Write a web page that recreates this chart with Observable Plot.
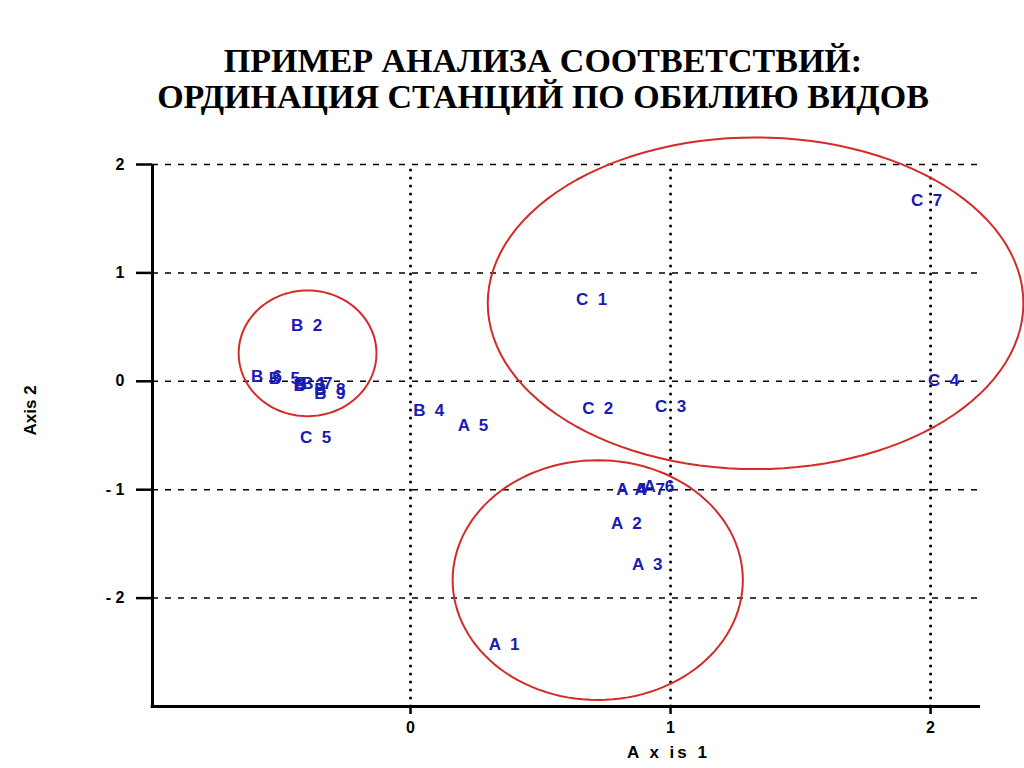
<!DOCTYPE html>
<html>
<head>
<meta charset="utf-8">
<script src="https://cdn.jsdelivr.net/npm/d3@7"></script>
<script src="https://cdn.jsdelivr.net/npm/@observablehq/plot@0.6"></script>
<style>
  body { margin: 0; background: #fff; }
  #title {
    height: 120px; box-sizing: border-box; padding-top: 43px; padding-left: 62px;
    font-family: "Liberation Serif", "Times New Roman", "DejaVu Serif", serif; font-weight: bold;
    font-size: 34px; line-height: 36px; text-align: center; color: #000;
  }
  #chart svg { font-family: "Liberation Sans", Arial, sans-serif; }
</style>
</head>
<body>
<div id="title">ПРИМЕР АНАЛИЗА СООТВЕТСТВИЙ:<br>ОРДИНАЦИЯ СТАНЦИЙ ПО ОБИЛИЮ ВИДОВ</div>
<div id="chart"></div>
<script>
// Station labels and their ordination scores (Axis 1, Axis 2)
const stations = ["C  7","C  1","C  4","C  2","C  3","C  5","B  2","B  4","A  5","A  1","A  2","A  3","A  4","A  7","A  6","B  6","B  5","B  1","B  3","B  7","B  8","B  9"];
const axis1 = [1.985, 0.696, 2.05, 0.72, 1.0, -0.365, -0.40, 0.07, 0.24, 0.36, 0.83, 0.91, 0.85, 0.92, 0.955, -0.554, -0.485, -0.385, -0.39, -0.36, -0.31, -0.31];
const axis2 = [1.67, 0.75, 0.01, -0.25, -0.23, -0.52, 0.51, -0.27, -0.41, -2.43, -1.31, -1.69, -1.0, -1.0, -0.97, 0.04, 0.03, -0.02, -0.04, -0.02, -0.08, -0.11];

// Group outlines (ellipses): centre and radii in axis units
const groupIds = ["C", "B", "A"];
const groupCx = [1.327, -0.396, 0.72];
const groupCy = [0.72, 0.258, -1.834];
const groupRx = [1.03, 0.265, 0.558];
const groupRy = [1.53, 0.58, 1.106];

// Tick values and axis titles
const xTicks = [0, 1, 2];
const yTicks = [-2, -1, 0, 1, 2];
const xDomain = [-0.9923, 2.192];
const yDomain = [-3, 2];
const xTitle = "A x is 1";
const yTitle = "Axis 2";

const points = stations.map((s, i) => ({label: s, x: axis1[i], y: axis2[i]}));

const outline = [];
groupIds.forEach((g, k) => {
  const n = 120;
  for (let j = 0; j < n; j++) {
    const t = (2 * Math.PI * j) / n;
    outline.push({id: g, x: groupCx[k] + groupRx[k] * Math.cos(t), y: groupCy[k] + groupRy[k] * Math.sin(t)});
  }
});

const fmt = d => d < 0 ? "- " + (-d) : String(d);

const chart = Plot.plot({
  width: 1024,
  height: 648,
  marginTop: 44,
  marginBottom: 62,
  marginLeft: 152,
  marginRight: 44,
  x: {domain: xDomain, axis: null},
  y: {domain: yDomain, axis: null},
  marks: [
    Plot.ruleY(yTicks, {x1: xDomain[0], x2: xDomain[1], stroke: "#000", strokeWidth: 1.5, strokeDasharray: "6,7"}),
    Plot.ruleX(xTicks, {y1: yDomain[0], y2: yDomain[1], stroke: "#000", strokeWidth: 3, strokeDasharray: "0,8", strokeLinecap: "round"}),
    Plot.axisY(yTicks, {tickSize: 16, tickPadding: 12, tickFormat: fmt, strokeWidth: 2.5, label: null, stroke: "#000", fill: "#000"}),
    Plot.axisX(xTicks, {tickSize: 8, tickPadding: 7, tickFormat: fmt, strokeWidth: 2.5, label: null, stroke: "#000", fill: "#000"}),
    Plot.ruleX([xDomain[0]], {y1: yDomain[0], y2: yDomain[1], stroke: "#000", strokeWidth: 3}),
    Plot.ruleY([yDomain[0]], {x1: xDomain[0] - 0.005, x2: xDomain[1], stroke: "#000", strokeWidth: 3}),
    Plot.line(outline, {x: "x", y: "y", z: "id", stroke: "#d42a2a", strokeWidth: 2, curve: "linear-closed"}),
    Plot.text(points, {x: "x", y: "y", text: "label", fill: "#1a1ab4", fontSize: 17, fontWeight: "bold"}),
    Plot.text([yTitle], {text: d => d, frameAnchor: "left", dx: -122, rotate: -90, fill: "#000", fontSize: 17, fontWeight: "bold"}),
    Plot.text([xTitle], {text: d => d, frameAnchor: "bottom", dx: 102, dy: 51, fill: "#000", fontSize: 17, fontWeight: "bold"})
  ]
});
const svg = d3.select(chart);
svg.selectAll('g[aria-label$="tick label"] text')
  .style("font-size", "16px").style("font-weight", "bold");
svg.selectAll("text")
  .filter(function () { return this.textContent === yTitle || this.textContent === xTitle; })
  .style("font-size", "17px").style("font-weight", "bold");
svg.selectAll("text")
  .filter(function () { return this.textContent === xTitle; })
  .style("letter-spacing", "3px");
document.getElementById("chart").appendChild(chart);
</script>
</body>
</html>
